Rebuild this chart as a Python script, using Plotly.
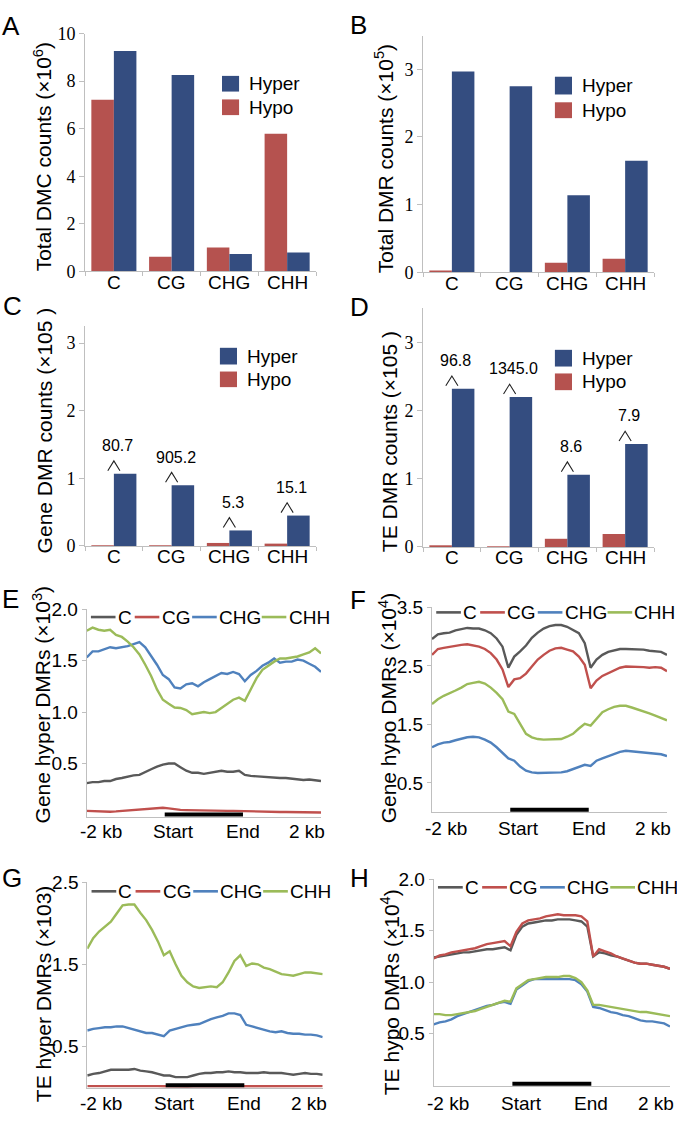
import plotly.graph_objects as go

# 畫布大小
W, H = 677, 1124

SANS = 'Liberation Sans, Arial, sans-serif'
SERIF = 'Liberation Serif, Times New Roman, serif'

HYPER_COLOR = '#344d80'
HYPO_COLOR = '#b5524f'
LINE_COLORS = {'C': '#595959', 'CG': '#c0504d', 'CHG': '#4f81bd', 'CHH': '#9bbb59'}

# ---- bar panels (A-D) ----
CATEGORIES = ['C', 'CG', 'CHG', 'CHH']

A_HYPER = [9.27, 8.26, 0.73, 0.79]
A_HYPO = [7.22, 0.61, 1.0, 5.79]

B_HYPER = [2.97, 2.75, 1.14, 1.65]
B_HYPO = [0.02, 0.0, 0.14, 0.2]

C_HYPER = [1.07, 0.9, 0.23, 0.45]
C_HYPO = [0.01, 0.005, 0.045, 0.035]
C_RATIO = ['80.7', '905.2', '5.3', '15.1']

D_HYPER = [2.32, 2.2, 1.06, 1.51]
D_HYPO = [0.02, 0.005, 0.12, 0.19]
D_RATIO = ['96.8', '1345.0', '8.6', '7.9']

# ---- profile panels (E-H) ----
BINS = [0, 2.5, 5, 7.5, 10, 12.5, 15, 17.5, 20, 22.5, 25, 27.5, 30, 32.5, 35, 37.5, 40,
        42.5, 45, 47.5, 50, 52.5, 55, 57.5, 60, 62.5, 65, 67.5, 70, 72.5, 75, 77.5, 80,
        82.5, 85, 87.5, 90, 92.5, 95, 97.5, 100]
BODY_START = 33.3
BODY_END = 66.7
X_TICKVALS = [6, 37, 66.6, 94.2]
X_TICKTEXT = ['-2 kb', 'Start', 'End', '2 kb']

E_C = [0.31, 0.32, 0.32, 0.33, 0.33, 0.35, 0.36, 0.375, 0.385, 0.39, 0.42, 0.445, 0.47, 0.49,
       0.50, 0.50, 0.465, 0.43, 0.41, 0.41, 0.40, 0.41, 0.42, 0.43, 0.42, 0.42, 0.43, 0.39,
       0.38, 0.375, 0.375, 0.366, 0.36, 0.36, 0.36, 0.355, 0.345, 0.34, 0.345, 0.335, 0.33]
E_CG = [0.04, 0.038, 0.033, 0.03, 0.032, 0.035, 0.04, 0.045, 0.05, 0.055, 0.06, 0.065, 0.07,
        0.07, 0.065, 0.055, 0.05, 0.048, 0.046, 0.045, 0.045, 0.044, 0.042, 0.04, 0.04, 0.04,
        0.038, 0.035, 0.034, 0.033, 0.032, 0.032, 0.031, 0.03, 0.03, 0.03, 0.029, 0.028,
        0.028, 0.027, 0.025]
E_CHG = [1.53, 1.59, 1.59, 1.61, 1.63, 1.62, 1.63, 1.64, 1.66, 1.68, 1.63, 1.55, 1.46, 1.36,
         1.32, 1.24, 1.23, 1.27, 1.28, 1.25, 1.29, 1.32, 1.35, 1.38, 1.37, 1.39, 1.37, 1.30,
         1.36, 1.40, 1.45, 1.48, 1.52, 1.48, 1.49, 1.49, 1.51, 1.50, 1.47, 1.44, 1.39]
E_CHH = [1.79, 1.82, 1.80, 1.79, 1.80, 1.75, 1.73, 1.685, 1.63, 1.56, 1.46, 1.35, 1.22, 1.12,
         1.08, 1.045, 1.04, 1.02, 0.98, 0.99, 1.0, 0.99, 1.0, 1.04, 1.08, 1.12, 1.14, 1.11,
         1.22, 1.33, 1.41, 1.45, 1.49, 1.52, 1.52, 1.53, 1.54, 1.56, 1.58, 1.62, 1.57]

F_C = [2.96, 3.04, 3.06, 3.07, 3.11, 3.13, 3.15, 3.14, 3.14, 3.11, 3.06, 2.97, 2.83, 2.47,
       2.66, 2.75, 2.85, 2.98, 3.07, 3.14, 3.18, 3.20, 3.20, 3.17, 3.11, 3.06, 2.89, 2.47,
       2.61, 2.69, 2.74, 2.76, 2.79, 2.79, 2.79, 2.79, 2.78, 2.76, 2.75, 2.74, 2.69]
F_CG = [2.69, 2.79, 2.81, 2.83, 2.85, 2.86, 2.87, 2.85, 2.83, 2.79, 2.72, 2.61, 2.44, 2.14,
        2.27, 2.29, 2.37, 2.49, 2.61, 2.69, 2.76, 2.80, 2.81, 2.78, 2.75, 2.66, 2.52, 2.12,
        2.25, 2.33, 2.38, 2.42, 2.47, 2.49, 2.49, 2.49, 2.48, 2.47, 2.48, 2.47, 2.41]
F_CHG = [1.11, 1.16, 1.19, 1.20, 1.23, 1.26, 1.28, 1.29, 1.28, 1.24, 1.19, 1.11, 1.02, 0.92,
         0.88, 0.78, 0.71, 0.68, 0.67, 0.67, 0.67, 0.67, 0.68, 0.70, 0.74, 0.78, 0.81, 0.79,
         0.88, 0.92, 0.96, 0.99, 1.03, 1.05, 1.04, 1.03, 1.02, 1.02, 1.01, 0.99, 0.96]
F_CHH = [1.85, 1.93, 1.99, 2.03, 2.08, 2.13, 2.19, 2.21, 2.23, 2.20, 2.13, 2.04, 1.93, 1.72,
         1.68, 1.51, 1.34, 1.28, 1.25, 1.24, 1.24, 1.24, 1.25, 1.29, 1.34, 1.43, 1.51, 1.48,
         1.60, 1.71, 1.76, 1.80, 1.82, 1.82, 1.79, 1.76, 1.72, 1.69, 1.65, 1.61, 1.57]

G_C = [0.14, 0.16, 0.17, 0.19, 0.21, 0.21, 0.21, 0.21, 0.22, 0.20, 0.19, 0.18, 0.16, 0.14,
       0.14, 0.12, 0.12, 0.12, 0.14, 0.16, 0.17, 0.17, 0.18, 0.18, 0.19, 0.18, 0.18, 0.17,
       0.17, 0.17, 0.18, 0.17, 0.17, 0.17, 0.16, 0.15, 0.16, 0.17, 0.16, 0.16, 0.15]
G_CG = [0.01, 0.01, 0.012, 0.014, 0.015, 0.016, 0.018, 0.016, 0.015, 0.014, 0.012, 0.01, 0.01,
        0.008, 0.006, 0.005, 0.005, 0.006, 0.008, 0.008, 0.008, 0.008, 0.008, 0.008, 0.008,
        0.008, 0.008, 0.008, 0.008, 0.009, 0.01, 0.01, 0.01, 0.01, 0.01, 0.01, 0.01, 0.01,
        0.01, 0.01, 0.01]
G_CHG = [0.69, 0.71, 0.72, 0.73, 0.73, 0.74, 0.74, 0.72, 0.70, 0.68, 0.66, 0.66, 0.64, 0.62,
         0.69, 0.71, 0.73, 0.75, 0.76, 0.77, 0.80, 0.83, 0.85, 0.87, 0.90, 0.90, 0.88, 0.76,
         0.74, 0.72, 0.70, 0.68, 0.67, 0.68, 0.66, 0.65, 0.65, 0.64, 0.64, 0.63, 0.61]
G_CHH = [1.69, 1.82, 1.90, 1.96, 2.02, 2.12, 2.22, 2.23, 2.23, 2.13, 2.04, 1.92, 1.78, 1.61,
         1.66, 1.50, 1.36, 1.28, 1.23, 1.21, 1.22, 1.23, 1.22, 1.28, 1.40, 1.54, 1.61, 1.48,
         1.51, 1.50, 1.46, 1.44, 1.41, 1.38, 1.37, 1.36, 1.38, 1.40, 1.40, 1.39, 1.38]

H_C = [1.24, 1.25, 1.26, 1.27, 1.28, 1.29, 1.29, 1.30, 1.31, 1.32, 1.32, 1.33, 1.34, 1.31,
       1.46, 1.54, 1.57, 1.58, 1.59, 1.60, 1.60, 1.61, 1.61, 1.61, 1.60, 1.59, 1.54, 1.25,
       1.29, 1.28, 1.26, 1.25, 1.23, 1.21, 1.19, 1.18, 1.18, 1.17, 1.16, 1.15, 1.13]
H_CG = [1.23, 1.26, 1.27, 1.29, 1.30, 1.31, 1.32, 1.33, 1.35, 1.37, 1.38, 1.39, 1.40, 1.35,
        1.49, 1.57, 1.60, 1.61, 1.62, 1.64, 1.65, 1.66, 1.65, 1.65, 1.65, 1.64, 1.59, 1.25,
        1.32, 1.30, 1.28, 1.25, 1.23, 1.21, 1.19, 1.18, 1.18, 1.17, 1.16, 1.15, 1.13]
H_CHG = [0.59, 0.61, 0.62, 0.64, 0.67, 0.69, 0.71, 0.73, 0.75, 0.77, 0.78, 0.80, 0.81, 0.79,
         0.93, 0.97, 1.01, 1.03, 1.03, 1.03, 1.03, 1.03, 1.03, 1.03, 1.02, 0.98, 0.91, 0.76,
         0.75, 0.73, 0.71, 0.70, 0.68, 0.67, 0.65, 0.63, 0.62, 0.62, 0.61, 0.60, 0.57]
H_CHH = [0.69, 0.69, 0.68, 0.68, 0.69, 0.70, 0.71, 0.72, 0.74, 0.76, 0.78, 0.80, 0.82, 0.81,
         0.94, 0.98, 1.02, 1.03, 1.04, 1.05, 1.05, 1.05, 1.06, 1.06, 1.04, 1.00, 0.92, 0.78,
         0.78, 0.77, 0.76, 0.75, 0.74, 0.73, 0.72, 0.71, 0.71, 0.70, 0.69, 0.68, 0.67]

# 每個面板: 軸編號, x 範圍(px), y 範圍(px), y 軸範圍, 刻度, x 標籤下移量
PANELS = {
    'A': dict(n=1, x=(85, 316), y=(24, 266), yrange=[0, 10], ticks=[0, 2, 4, 6, 8, 10], lab=11),
    'B': dict(n=2, x=(423, 654), y=(26, 267), yrange=[0, 3.5], ticks=[0, 1, 2, 3], lab=11),
    'C': dict(n=3, x=(85, 316), y=(322, 545.7), yrange=[0, 3.25], ticks=[0, 1, 2, 3], lab=11),
    'D': dict(n=4, x=(423, 654), y=(303.7, 546.7), yrange=[0, 3.5], ticks=[0, 1, 2, 3], lab=11),
    'E': dict(n=5, x=(86.7, 321), y=(610, 821.7), yrange=[-0.02, 2.0],
              ticks=[0.5, 1.0, 1.5, 2.0], lab=14),
    'F': dict(n=6, x=(432, 667), y=(608.3, 816.7), yrange=[0, 3.5],
              ticks=[0.5, 1.5, 2.5, 3.5], lab=16),
    'G': dict(n=7, x=(87.3, 322.7), y=(888.3, 1097.3), yrange=[-0.01, 2.5],
              ticks=[0.5, 1.5, 2.5], lab=16),
    'H': dict(n=8, x=(433.7, 670), y=(885, 1095.7), yrange=[-0.01, 2.0],
              ticks=[0.5, 1.0, 1.5, 2.0], lab=17),
}

Y_TITLES = {
    'A': ('Total DMC counts (×10<sup>6</sup>)', 43, 150),
    'B': ('Total DMR counts (×10<sup>5</sup>)', 384, 152),
    'C': ('Gene DMR counts (×105 )', 44, 428),
    'D': ('TE DMR counts (×105 )', 389, 440),
    'E': ('Gene hyper DMRs (×10<sup>3</sup>)', 42, 707),
    'F': ('Gene hypo DMRs (×10<sup>4</sup>)', 388, 711),
    'G': ('TE hyper DMRs (×103)', 43, 1002),
    'H': ('TE hypo DMRs (×10<sup>4</sup>)', 390, 1000),
}

# 面板字母 (左緣, 字中心)
LETTERS = {'A': (0, 16), 'B': (348, 15), 'C': (1, 301), 'D': (348, 302),
           'E': (0, 600), 'F': (348, 601), 'G': (0, 884), 'H': (348, 884)}


def ax(name, n):
    return name if n == 1 else f'{name}{n}'


def fx(px):
    return px / W


def fy(py):
    return 1 - py / H


fig = go.Figure()
layout = dict(
    width=W, height=H, autosize=False,
    margin=dict(l=0, r=0, t=0, b=0),
    paper_bgcolor='white', plot_bgcolor='white',
    showlegend=False,
    barmode='group', bargap=0.22, bargroupgap=0,
)
shapes = []
annotations = []

# 軸設定
for key, p in PANELS.items():
    n = p['n']
    bar_panel = key in 'ABCD'
    xa = dict(
        domain=[fx(p['x'][0]), fx(p['x'][1])],
        anchor=ax('y', n),
        showline=True, linecolor='#bfbfbf', linewidth=1,
        showgrid=False, zeroline=False, showticklabels=False,
    )
    ya = dict(
        domain=[fy(p['y'][1]), fy(p['y'][0])],
        anchor=ax('x', n),
        range=p['yrange'],
        tickvals=p['ticks'],
        showline=True, linecolor='#bfbfbf', linewidth=1,
        ticks='outside', ticklen=5, tickcolor='#bfbfbf',
        showgrid=False, zeroline=False,
    )
    xref = ax('x', n)
    yref_dom = f'{ax("y", n)} domain'
    if bar_panel:
        xa.update(type='category', range=[-0.5, 3.5], ticks='outside',
                  tickson='boundaries', ticklen=4, tickcolor='#bfbfbf')
        ya.update(tickfont=dict(family=SERIF, size=18, color='black'))
        label_pos = list(zip(CATEGORIES, CATEGORIES))
    else:
        xa.update(range=[0, 100], ticks='')
        ya.update(tickformat='.1f', ticklen=4,
                  tickfont=dict(family=SANS, size=19, color='black'))
        label_pos = list(zip(X_TICKVALS, X_TICKTEXT))
    layout[ax('xaxis', n)] = xa
    layout[ax('yaxis', n)] = ya

    # X 軸刻度文字
    for xv, txt in label_pos:
        annotations.append(dict(
            text=txt, x=xv, y=0, xref=xref, yref=yref_dom,
            xanchor='center', yanchor='middle', yshift=-p['lab'], showarrow=False,
            font=dict(family=SANS, size=19, color='black'),
        ))

    # Y 軸標題
    text, tx, ty = Y_TITLES[key]
    annotations.append(dict(
        text=text, x=fx(tx), y=fy(ty), xref='paper', yref='paper',
        xanchor='center', yanchor='middle', textangle=-90, showarrow=False,
        font=dict(family=SANS, size=21, color='black'),
    ))
    # 面板字母
    lx, ly = LETTERS[key]
    annotations.append(dict(
        text=key, x=fx(lx), y=fy(ly), xref='paper', yref='paper',
        xanchor='left', yanchor='middle', showarrow=False,
        font=dict(family=SANS, size=26, color='black'),
    ))

# 長條圖
BAR_DATA = {
    'A': (A_HYPO, A_HYPER),
    'B': (B_HYPO, B_HYPER),
    'C': (C_HYPO, C_HYPER),
    'D': (D_HYPO, D_HYPER),
}
BAR_LEGEND = {
    # 方塊 x, hyper 方塊 y, hypo 方塊 y (axis domain)
    'A': ((0.593, 0.667), (0.756, 0.822), (0.657, 0.723)),
    'B': ((0.571, 0.645), (0.751, 0.826), (0.651, 0.718)),
    'C': ((0.584, 0.658), (0.826, 0.902), (0.723, 0.794)),
    'D': ((0.571, 0.645), (0.756, 0.826), (0.657, 0.727)),
}
for key, (hypo, hyper) in BAR_DATA.items():
    n = PANELS[key]['n']
    for values, color in ((hypo, HYPO_COLOR), (hyper, HYPER_COLOR)):
        fig.add_trace(go.Bar(
            x=CATEGORIES, y=values, marker=dict(color=color, line=dict(width=0)),
            xaxis=ax('x', n), yaxis=ax('y', n),
        ))
    (sx0, sx1), hy, ly_ = BAR_LEGEND[key]
    for (y0, y1), color, label in ((hy, HYPER_COLOR, 'Hyper'), (ly_, HYPO_COLOR, 'Hypo')):
        shapes.append(dict(
            type='rect', xref=f'{ax("x", n)} domain', yref=f'{ax("y", n)} domain',
            x0=sx0, x1=sx1, y0=y0, y1=y1, fillcolor=color, line=dict(width=0),
        ))
        annotations.append(dict(
            text=label, xref=f'{ax("x", n)} domain', yref=f'{ax("y", n)} domain',
            x=sx1 + 0.035, y=(y0 + y1) / 2, xanchor='left', yanchor='middle',
            showarrow=False, font=dict(family=SANS, size=19, color='black'),
        ))

# C 與 D 的倍數標註 (^ 與數值)
for key, hyper, ratios, overlay in (('C', C_HYPER, C_RATIO, 9), ('D', D_HYPER, D_RATIO, 10)):
    p = PANELS[key]
    n = p['n']
    unit_px = (p['y'][1] - p['y'][0]) / (p['yrange'][1] - p['yrange'][0])
    layout[ax('xaxis', overlay)] = dict(overlaying=ax('x', n), anchor=ax('y', n),
                                       range=[-0.5, 3.5], visible=False)
    cx, cy = [], []
    for i, v in enumerate(hyper):
        base = v + 3 / unit_px
        top = v + 13 / unit_px
        cx += [i - 0.105, i, i + 0.105, None]
        cy += [base, top, base, None]
    fig.add_trace(go.Scatter(
        x=cx, y=cy, mode='lines', line=dict(color='#222222', width=1.1),
        xaxis=ax('x', overlay), yaxis=ax('y', n), hoverinfo='skip',
    ))
    for cat, v, txt in zip(CATEGORIES, hyper, ratios):
        annotations.append(dict(
            text=txt, x=cat, y=v, xref=ax('x', n), yref=ax('y', n),
            xanchor='center', yanchor='middle', yshift=28, xshift=4,
            showarrow=False, font=dict(family=SANS, size=16, color='black'),
        ))

# 曲線圖
LINE_DATA = {
    'E': {'C': E_C, 'CG': E_CG, 'CHG': E_CHG, 'CHH': E_CHH},
    'F': {'C': F_C, 'CG': F_CG, 'CHG': F_CHG, 'CHH': F_CHH},
    'G': {'C': G_C, 'CG': G_CG, 'CHG': G_CHG, 'CHH': G_CHH},
    'H': {'C': H_C, 'CG': H_CG, 'CHG': H_CHG, 'CHH': H_CHH},
}
LEGEND_Y = {'E': 0.962, 'F': 0.976, 'G': 0.957, 'H': 0.961}
LEGEND_X = {'C': 0.018, 'CG': 0.205, 'CHG': 0.45, 'CHH': 0.747}
for key, series in LINE_DATA.items():
    n = PANELS[key]['n']
    for name, values in series.items():
        fig.add_trace(go.Scatter(
            x=BINS, y=values, mode='lines', name=name,
            line=dict(color=LINE_COLORS[name], width=2.4),
            xaxis=ax('x', n), yaxis=ax('y', n),
        ))
        # 圖例
        x0 = LEGEND_X[name]
        shapes.append(dict(
            type='line', xref=f'{ax("x", n)} domain', yref=f'{ax("y", n)} domain',
            x0=x0, x1=x0 + 0.105, y0=LEGEND_Y[key], y1=LEGEND_Y[key],
            line=dict(color=LINE_COLORS[name], width=2.6),
        ))
        annotations.append(dict(
            text=name, xref=f'{ax("x", n)} domain', yref=f'{ax("y", n)} domain',
            x=x0 + 0.106, y=LEGEND_Y[key], xanchor='left', yanchor='middle',
            showarrow=False, font=dict(family=SANS, size=19, color='black'),
        ))
    # Start-End 黑色條
    shapes.append(dict(
        type='line', xref=ax('x', n), yref=f'{ax("y", n)} domain',
        x0=BODY_START, x1=BODY_END, y0=0.012, y1=0.012,
        line=dict(color='black', width=4),
    ))

layout['shapes'] = shapes
layout['annotations'] = annotations
fig.update_layout(**layout)
# 去掉頁面預設邊界, 讓圖從左上角開始
fig.write_html('out.html', config={'displayModeBar': False},
               post_script="document.body.style.margin='0px';")
